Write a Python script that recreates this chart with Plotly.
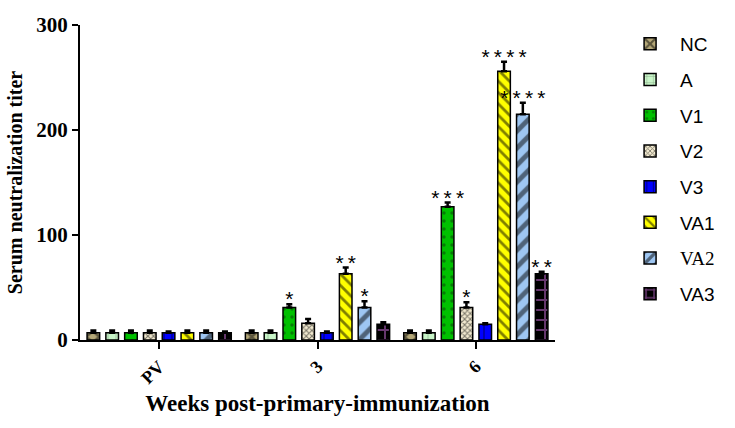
import plotly.graph_objects as go

groups = ["PV", "3", "6"]
series = ["NC", "A", "V1", "V2", "V3", "VA1", "VA2", "VA3"]

nc = [7, 7, 7]
a = [7, 7, 7]
v1 = [7, 31, 127]
v2 = [7, 16, 31]
v3 = [7, 7, 15]
va1 = [7, 63, 256]
va2 = [7, 31, 215]
va3 = [7, 15, 63]

nc_err = [2, 2, 2]
a_err = [2, 2, 2]
v1_err = [2, 3, 4]
v2_err = [2, 4, 5]
v3_err = [1, 1, 1]
va1_err = [2, 6, 9]
va2_err = [2, 6, 11]
va3_err = [1, 2, 2]

T = "\u2009"
nc_sig = ["", "", ""]
a_sig = ["", "", ""]
v1_sig = ["", "*", T.join("***")]
v2_sig = ["", "", "*"]
v3_sig = ["", "", ""]
va1_sig = ["", T.join("**"), T.join("****")]
va2_sig = ["", "*", T.join("****")]
va3_sig = ["", "", T.join("**")]

values = [nc, a, v1, v2, v3, va1, va2, va3]
errors = [nc_err, a_err, v1_err, v2_err, v3_err, va1_err, va2_err, va3_err]
sigs = [nc_sig, a_sig, v1_sig, v2_sig, v3_sig, va1_sig, va2_sig, va3_sig]

styles = [
    dict(bg="#b5a878", shape="x", fg="#000000", size=9, sol=0.5),
    dict(bg="#c8f5c8", shape="+", fg="#2a3a2a", size=8, sol=0.12),
    dict(bg="#00c000", shape=".", fg="#0a3a0a", size=8, sol=0.15),
    dict(bg="#f2ead0", shape="x", fg="#000000", size=4, sol=0.45),
    dict(bg="#0000ff", shape="|", fg="#000000", size=8, sol=0.15),
    dict(bg="#ffff00", shape="\\", fg="#000000", size=8, sol=0.35),
    dict(bg="#9ec6f2", shape="/", fg="#000000", size=12, sol=0.4),
    dict(bg="#000000", shape="+", fg="#d070e0", size=10, sol=0.35),
]

serif = "Liberation Serif"
sans = "Liberation Sans"

fig = go.Figure()
for i, (name, vals, errs, st) in enumerate(zip(series, values, errors, styles)):
    label = name
    if name == "VA2":
        label = '<span style="font-family:Liberation Serif">VA2</span>'
    fig.add_trace(go.Bar(
        x=groups, y=vals, name=label, legendgroup=name,
        offsetgroup=str(i),
        marker=dict(color=st["bg"], line=dict(color="black", width=1.5),
                    pattern=dict(shape=st["shape"], fgcolor=st["fg"], bgcolor=st["bg"],
                                 size=st["size"], solidity=st["sol"], fillmode="overlay")),
        error_y=dict(type="data", symmetric=False, array=errs, arrayminus=[0] * len(errs),
                     color="black", thickness=2.5, width=3),
    ))

for i, (name, vals, errs, sg) in enumerate(zip(series, values, errors, sigs)):
    fig.add_trace(go.Scatter(
        x=groups, y=[v + e + 3 for v, e in zip(vals, errs)], text=sg,
        mode="text", textposition="middle center", showlegend=False,
        offsetgroup=str(i), legendgroup=name,
        textfont=dict(family=sans, size=21, color="black"),
        hoverinfo="skip",
    ))

fig.update_layout(
    width=735, height=428,
    margin=dict(l=80, r=180, t=25, b=88, autoexpand=False),
    paper_bgcolor="white", plot_bgcolor="white",
    barmode="group", bargap=0.05, bargroupgap=0.33,
    scattermode="group", scattergap=0.05,
    showlegend=True,
    legend=dict(x=1.137, xanchor="left", y=1.0, yanchor="top",
                font=dict(family=sans, size=19, color="black"),
                itemwidth=50, tracegroupgap=8, bgcolor="rgba(0,0,0,0)"),
    xaxis=dict(showline=True, linecolor="black", linewidth=2, ticks="outside",
               ticklen=7, tickwidth=2, tickcolor="black", tickangle=-45, automargin=False,
               tickfont=dict(family=serif, size=18, color="black", weight="bold"),
               title=dict(text="Weeks post-primary-immunization", standoff=8,
                          font=dict(family=serif, size=23, color="black", weight="bold")),
               showgrid=False),
    yaxis=dict(range=[0, 300], tickvals=[0, 100, 200, 300], showline=True,
               linecolor="black", linewidth=2, ticks="outside", ticklen=6, tickwidth=2,
               tickcolor="black", showgrid=False, zeroline=False, automargin=False,
               tickfont=dict(family=serif, size=21, color="black", weight="bold"),
               title=dict(text="Serum neutralization titer", standoff=8,
                          font=dict(family=serif, size=20, color="black", weight="bold"))),
)

fig.write_html("out.html", config={"displayModeBar": False},
               post_script="document.body.style.margin='0';")
